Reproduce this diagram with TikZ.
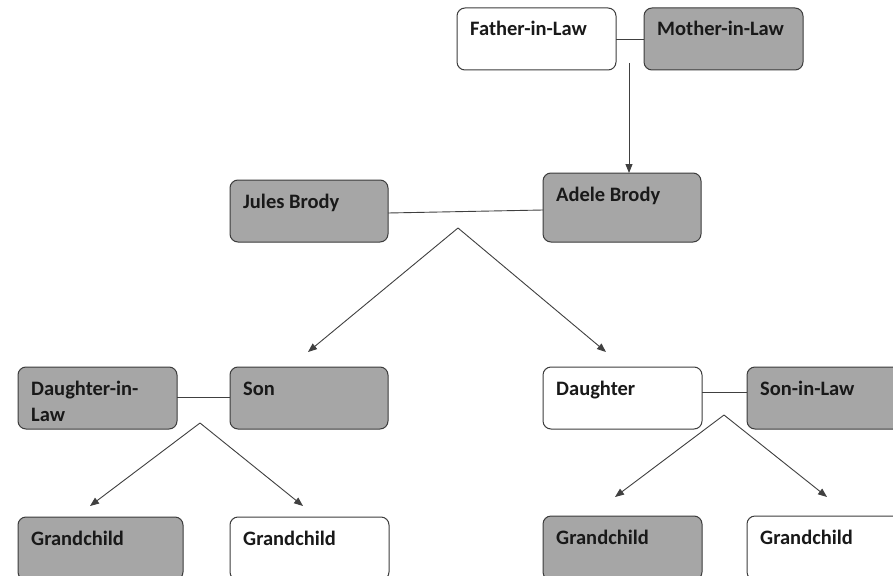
\documentclass[tikz,border=0pt]{standalone}
\usepackage{fontspec}
\setmainfont{Carlito}
\usetikzlibrary{arrows.meta,calc}
\definecolor{boxgrey}{HTML}{A6A6A6}
\definecolor{edge}{HTML}{3C3C3C}
\definecolor{conn}{HTML}{404040}
\tikzset{
  famboxbase/.style={draw=edge, line width=1pt, rounded corners=8pt, inner sep=0pt, outer sep=0pt, anchor=north west},
  greybox/.style={famboxbase, fill=boxgrey},
  whitebox/.style={famboxbase, fill=white},
  lbl/.style={anchor=base west, inner sep=0pt, text=black!90, font=\fontsize{20.5}{26}\selectfont\bfseries, align=left},
  marry/.style={draw=conn, line width=0.9pt},
  child/.style={draw=conn, line width=0.9pt, -{Triangle[length=9pt,width=7pt]}}
}
\newcommand{\famnode}[8][0]{% [extra y], style, name, left, top, right, bottom, text
  \node[#2, minimum width={#6-#4}, minimum height={#7-#5}] (#3) at (#4,#5) {};
  \node[lbl] (#3-t) at ($(#3.north west)+(13,28+#1)$) {#8};
}
\begin{document}
\begin{tikzpicture}[x=1pt,y=-1pt]
\useasboundingbox (0,0) rectangle (893,575);
\fill[white] (0,0) rectangle (893,575);
\clip (0,0) rectangle (893,575);
% top generation
\famnode{whitebox}{fil}{457}{8}{616}{70}{Father-in-Law}
\famnode{greybox}{mil}{644}{8}{803}{70}{Mother-in-Law}
% second generation
\famnode{greybox}{jul}{230}{180}{388}{242}{Jules Brody}
\famnode{greybox}{ade}{543}{173}{701}{242}{Adele Brody}
% third generation
\famnode[26]{greybox}{dil}{18}{367}{177}{429}{Daughter-in-\\Law}
\famnode{greybox}{son}{230}{367}{388}{429}{Son}
\famnode{whitebox}{dau}{543}{367}{702}{429}{Daughter}
\famnode{greybox}{sil}{747}{367}{905}{429}{Son-in-Law}
% grandchildren
\famnode{greybox}{gc1}{18}{517}{183}{580}{Grandchild}
\famnode{whitebox}{gc2}{230}{517}{389}{580}{Grandchild}
\famnode{greybox}{gc3}{543}{516}{702}{580}{Grandchild}
\famnode{whitebox}{gc4}{747}{516}{905}{580}{Grandchild}
% marriage lines
\draw[marry] (fil.east) -- (mil.west);
\draw[marry] (jul.east) ++(0,2) -- (ade.west |- 0,210);
\draw[marry] (dil.east) ++(0,-1) -- (son.west |- 0,397);
\draw[marry] (dau.east |- 0,392) -- (sil.west |- 0,392);
% coordinates
\coordinate (p0) at (629,63);
\coordinate (p1) at (458,228);
\coordinate (e1) at (308,352);
\coordinate (e2) at (606,352);
\coordinate (p2) at (200,423);
\coordinate (e3) at (90,506);
\coordinate (e4) at (303,506);
\coordinate (p3) at (724,415);
\coordinate (e5) at (615,497);
\coordinate (e6) at (827,497);
% descent arrows
\draw[child] (p0) -- (p0 |- ade.north);
\draw[child] (p1) -- (e1);
\draw[child] (p1) -- (e2);
\draw[child] (p2) -- (e3);
\draw[child] (p2) -- (e4);
\draw[child] (p3) -- (e5);
\draw[child] (p3) -- (e6);
\end{tikzpicture}
\end{document}
